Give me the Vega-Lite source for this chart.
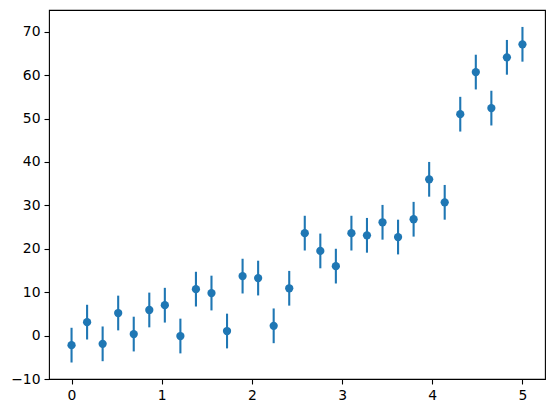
{
  "$schema": "https://vega.github.io/schema/vega-lite/v6.json",
  "width": 496,
  "height": 369,
  "autosize": "none",
  "padding": {"left": 49, "top": 10, "right": 9, "bottom": 34},
  "background": "white",
  "config": {
    "view": {"stroke": "black", "strokeWidth": 1.1},
    "font": "DejaVu Sans",
    "axis": {
      "grid": false,
      "domain": false,
      "tickColor": "black",
      "tickSize": 5,
      "tickWidth": 1.1,
      "labelFont": "DejaVu Sans",
      "labelFontSize": 13.9,
      "labelColor": "black",
      "labelPadding": 4
    }
  },
  "data": {
    "values": [
      {"x": 0.0, "y": -2.2, "err": 4},
      {"x": 0.1724, "y": 3.1, "err": 4},
      {"x": 0.3448, "y": -1.9, "err": 4},
      {"x": 0.5172, "y": 5.2, "err": 4},
      {"x": 0.6897, "y": 0.35, "err": 4},
      {"x": 0.8621, "y": 5.9, "err": 4},
      {"x": 1.0345, "y": 7.0, "err": 4},
      {"x": 1.2069, "y": -0.1, "err": 4},
      {"x": 1.3793, "y": 10.7, "err": 4},
      {"x": 1.5517, "y": 9.8, "err": 4},
      {"x": 1.7241, "y": 1.05, "err": 4},
      {"x": 1.8966, "y": 13.7, "err": 4},
      {"x": 2.069, "y": 13.25, "err": 4},
      {"x": 2.2414, "y": 2.25, "err": 4},
      {"x": 2.4138, "y": 10.9, "err": 4},
      {"x": 2.5862, "y": 23.6, "err": 4},
      {"x": 2.7586, "y": 19.5, "err": 4},
      {"x": 2.931, "y": 16.0, "err": 4},
      {"x": 3.1034, "y": 23.6, "err": 4},
      {"x": 3.2759, "y": 23.1, "err": 4},
      {"x": 3.4483, "y": 26.1, "err": 4},
      {"x": 3.6207, "y": 22.7, "err": 4},
      {"x": 3.7931, "y": 26.8, "err": 4},
      {"x": 3.9655, "y": 36.0, "err": 4},
      {"x": 4.1379, "y": 30.7, "err": 4},
      {"x": 4.3103, "y": 51.0, "err": 4},
      {"x": 4.4828, "y": 60.7, "err": 4},
      {"x": 4.6552, "y": 52.4, "err": 4},
      {"x": 4.8276, "y": 64.1, "err": 4},
      {"x": 5.0, "y": 67.1, "err": 4}
    ]
  },
  "encoding": {
    "x": {
      "field": "x",
      "type": "quantitative",
      "title": null,
      "scale": {"domain": [-0.25, 5.25], "nice": false, "zero": false},
      "axis": {"values": [0, 1, 2, 3, 4, 5], "format": "d", "title": null}
    }
  },
  "layer": [
    {
      "mark": {"type": "errorbar", "color": "#1f77b4", "thickness": 2.1},
      "encoding": {
        "y": {
          "field": "y",
          "type": "quantitative",
          "title": null,
          "scale": {"domain": [-10, 75], "nice": false, "zero": false},
          "axis": {"values": [-10, 0, 10, 20, 30, 40, 50, 60, 70], "format": "d", "title": null}
        },
        "yError": {"field": "err"}
      }
    },
    {
      "mark": {"type": "point", "filled": true, "opacity": 1, "color": "#1f77b4", "size": 68, "shape": "circle"},
      "encoding": {
        "y": {"field": "y", "type": "quantitative", "title": null}
      }
    }
  ]
}
